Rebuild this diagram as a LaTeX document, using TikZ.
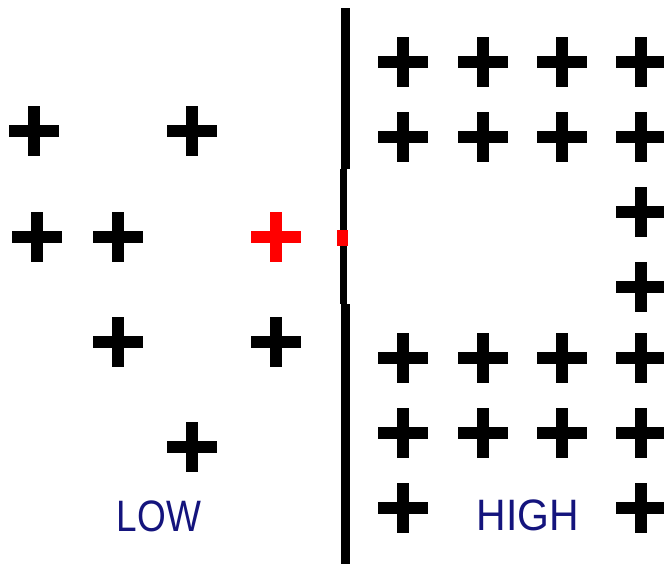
\documentclass[tikz,border=0pt]{standalone}
\usepackage{fontspec}
\setmainfont{Liberation Sans}
\definecolor{navyink}{RGB}{20,20,125}
\definecolor{redmark}{RGB}{255,0,0}
\begin{document}
\begin{tikzpicture}[x=1pt,y=-1pt,
  plussign/.style={minimum size=50pt, inner sep=0pt, outer sep=0pt,
    path picture={
      \fill[#1] ([xshift=-25pt,yshift=-6pt]path picture bounding box.center) rectangle ++(50pt,12pt);
      \fill[#1] ([xshift=-6pt,yshift=-25pt]path picture bounding box.center) rectangle ++(12pt,50pt);
    }},
  plussign/.default=black,
  label text/.style={text=navyink, font=\fontsize{44}{44}\selectfont, inner sep=0pt}
]
\useasboundingbox (0,0) rectangle (664,564);
\clip (0,0) rectangle (664,564);
\fill[white] (0,0) rectangle (664,564);

% left side (LOW)
\node[plussign] (l1) at (34,131) {};
\node[plussign] (l2) at (192,131) {};
\node[plussign] (l3) at (37,237) {};
\node[plussign] (l4) at (118,237) {};
\node[plussign=redmark] (lr) at (276,237) {};
\node[plussign] (l5) at (118,342) {};
\node[plussign] (l6) at (276,342) {};
\node[plussign] (l7) at (192,447) {};
\node[label text] (low) at (159,516) {\scalebox{0.84}[1]{LOW}};

% divider
\fill[black] (341,8) rectangle (350,169);
\fill[black] (340,169) rectangle (347,304);
\fill[black] (341,304) rectangle (350,564);
\fill[redmark] (337,230) rectangle (348,246);

% right side (HIGH)
\foreach \x [count=\i] in {403,483,562,641}{
  \node[plussign] (ha\i) at (\x,62) {};
  \node[plussign] (hb\i) at (\x,137) {};
  \node[plussign] (hd\i) at (\x,358) {};
  \node[plussign] (he\i) at (\x,433) {};
}
\node[plussign] (hc1) at (641,212) {};
\node[plussign] (hc2) at (641,287) {};
\node[plussign] (hf1) at (403,508) {};
\node[plussign] (hf4) at (641,508) {};
\node[label text] (high) at (528,515) {\scalebox{0.93}[1]{HIGH}};
\end{tikzpicture}
\end{document}
